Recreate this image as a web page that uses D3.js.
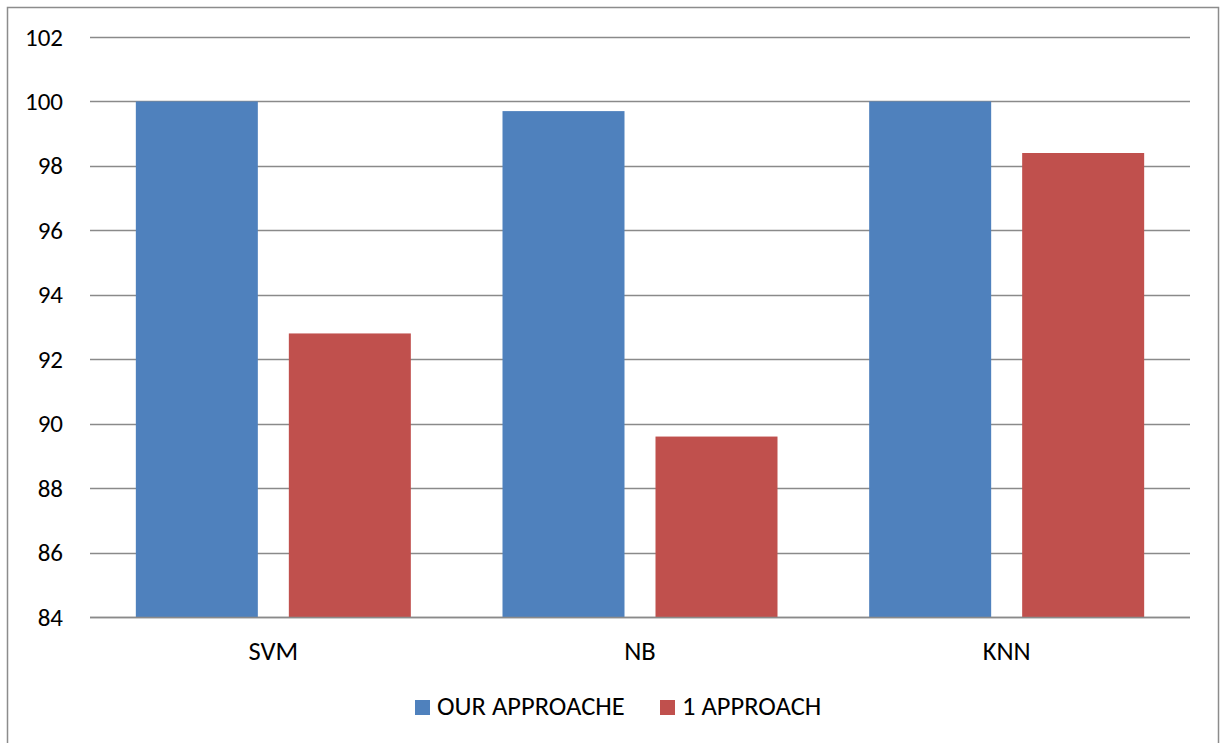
<!DOCTYPE html>
<html>
<head>
<meta charset="utf-8">
<script src="https://cdn.jsdelivr.net/npm/d3@7"></script>
<style>
  html, body { margin: 0; padding: 0; background: #fff; }
  svg { display: block; font-family: Carlito, Calibri, Lato, "Open Sans", sans-serif; }
</style>
</head>
<body>
<svg id="chart" width="1222" height="743"></svg>
<script>
// Accuracy per classifier, two approaches
const categories = ["SVM", "NB", "KNN"];
const seriesNames = ["OUR APPROACHE", "1 APPROACH"];
const ourApproach = [100, 99.7, 100];
const oneApproach = [92.8, 89.6, 98.4];
const yTicks = [84, 86, 88, 90, 92, 94, 96, 98, 100, 102];
const colors = ["#4F81BD", "#C0504D"];

const svg = d3.select("#chart");
const W = 1222, H = 743;
const plot = { left: 90, right: 1190, top: 37, bottom: 617 };
const fontFamily = "Carlito, Calibri, Lato, 'Open Sans', sans-serif";
const tickFont = 25;
const labelFont = 26.5;

// outer frame
svg.append("rect")
  .attr("x", 7.5).attr("y", 7.5)
  .attr("width", 1211).attr("height", H)
  .attr("fill", "#fff").attr("stroke", "#8c8c8c").attr("stroke-width", 1.5);

const y = d3.scaleLinear().domain([84, 102]).range([plot.bottom, plot.top]);
const x0 = d3.scaleBand().domain(categories).range([plot.left, plot.right]).paddingInner(0).paddingOuter(0);
const groupWidth = x0.bandwidth();
const barW = 122, gap = 31;

// gridlines
svg.append("g").selectAll("line").data(yTicks).join("line")
  .attr("x1", plot.left).attr("x2", plot.right)
  .attr("y1", d => Math.round(y(d)) + 0.5).attr("y2", d => Math.round(y(d)) + 0.5)
  .attr("stroke", "#8a8a8a").attr("stroke-width", 1.3);

// y axis labels
const yAxis = d3.axisLeft(y).tickValues(yTicks).tickSize(0).tickPadding(27);
const gy = svg.append("g").attr("transform", `translate(${plot.left},0)`).call(yAxis);
gy.select(".domain").remove();
gy.selectAll("text").attr("font-size", tickFont).attr("fill", "#000")
  .attr("font-family", fontFamily);

// bars
const rows = categories.map((c, i) => ({ cat: c, vals: [ourApproach[i], oneApproach[i]] }));
const groups = svg.append("g").selectAll("g").data(rows).join("g")
  .attr("transform", d => `translate(${x0(d.cat) + groupWidth / 2},0)`);
groups.selectAll("rect").data(d => d.vals).join("rect")
  .attr("x", (d, i) => i === 0 ? -gap / 2 - barW : gap / 2)
  .attr("width", barW)
  .attr("y", d => y(d))
  .attr("height", d => y(84) - y(d))
  .attr("fill", (d, i) => colors[i]);

// baseline on top of bars
svg.append("line")
  .attr("x1", plot.left).attr("x2", plot.right)
  .attr("y1", Math.round(y(84)) + 0.5).attr("y2", Math.round(y(84)) + 0.5)
  .attr("stroke", "#8a8a8a").attr("stroke-width", 1.3);

// category labels
const xAxis = d3.axisBottom(x0).tickSize(0).tickPadding(24);
const gx = svg.append("g").attr("transform", `translate(0,${plot.bottom})`).call(xAxis);
gx.select(".domain").remove();
gx.selectAll("text").attr("font-size", labelFont).attr("fill", "#000")
  .attr("font-family", fontFamily);

// legend
const legendX = [415, 660];
const leg = svg.append("g").selectAll("g").data(seriesNames).join("g")
  .attr("transform", (d, i) => `translate(${legendX[i]},700)`);
leg.append("rect").attr("width", 15).attr("height", 15).attr("fill", (d, i) => colors[i]);
leg.append("text").attr("x", 22).attr("y", 15).attr("font-size", labelFont).attr("fill", "#000").text(d => d);
</script>
</body>
</html>
